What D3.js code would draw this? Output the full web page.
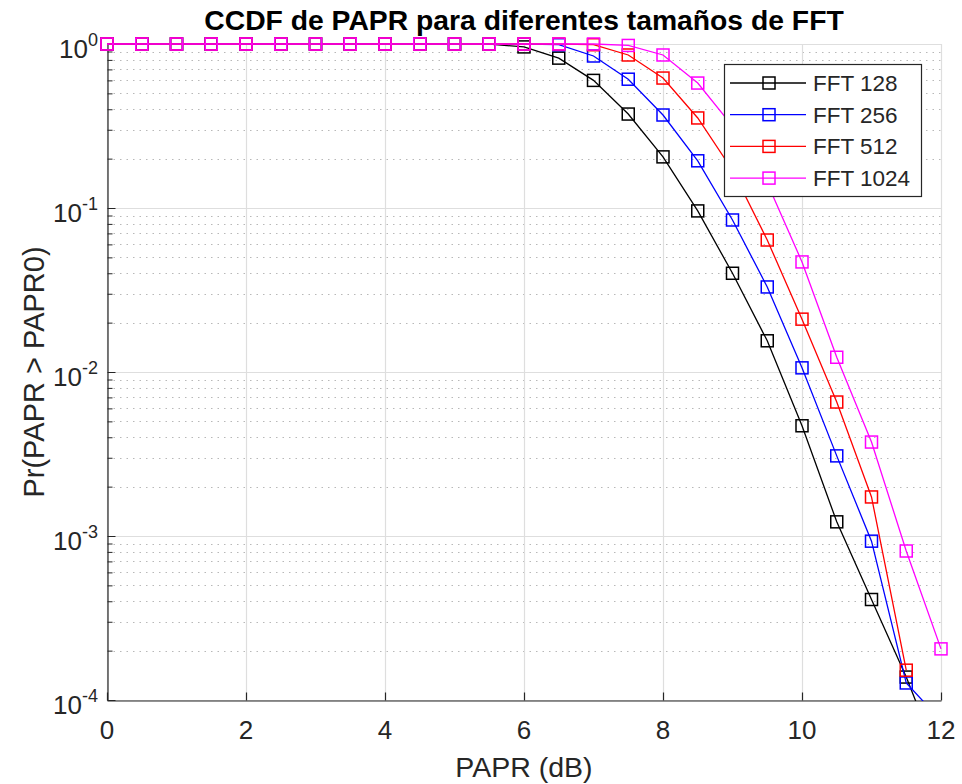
<!DOCTYPE html>
<html>
<head>
<meta charset="utf-8">
<script src="https://cdn.jsdelivr.net/npm/d3@7"></script>
<style>
  html, body { margin: 0; padding: 0; background: #ffffff; }
  svg { display: block; font-family: "Liberation Sans", Arial, Helvetica, sans-serif; }
</style>
</head>
<body>
<svg id="chart" width="962" height="784"></svg>
<script>
// ---- data ----
const papr = [0, 0.5, 1, 1.5, 2, 2.5, 3, 3.5, 4, 4.5, 5, 5.5, 6, 6.5, 7, 7.5, 8, 8.5, 9, 9.5, 10, 10.5, 11, 11.5, 12];
const fft128 = [1, 1, 1, 1, 1, 1, 1, 1, 1, 1, 1, 0.997, 0.96, 0.82, 0.60, 0.374, 0.205, 0.096, 0.040, 0.0155, 0.0047, 0.00122, 0.00041, 0.000138, 0.00004];
const fft256 = [1, 1, 1, 1, 1, 1, 1, 1, 1, 1, 1, 1, 0.998, 0.99, 0.845, 0.61, 0.369, 0.194, 0.0845, 0.033, 0.0106, 0.00308, 0.00093, 0.000127, 0.000075];
const fft512 = [1, 1, 1, 1, 1, 1, 1, 1, 1, 1, 1, 1, 1, 1, 0.99, 0.857, 0.62, 0.354, 0.17, 0.0638, 0.021, 0.00656, 0.00173, 0.000152, 0];
const fft1024 = [1, 1, 1, 1, 1, 1, 1, 1, 1, 1, 1, 1, 1, 1, 1, 0.98, 0.857, 0.578, 0.316, 0.142, 0.0469, 0.0123, 0.00374, 0.00081, 0.000205];
const seriesNames = ["FFT 128", "FFT 256", "FFT 512", "FFT 1024"];
const seriesColors = ["#000000", "#0000ff", "#ff0000", "#ff00ff"];
const xTicks = [0, 2, 4, 6, 8, 10, 12];
const yExponents = [0, -1, -2, -3, -4];
const titleText = "CCDF de PAPR para diferentes tamaños de FFT";
const xLabelText = "PAPR (dB)";
const yLabelText = "Pr(PAPR > PAPR0)";

const seriesValues = [fft128, fft256, fft512, fft1024];

// ---- layout ----
const svg = d3.select("#chart");
const L = 107, R = 941, T = 44, B = 700;
const axisColor = "#262626";

const x = d3.scaleLinear().domain([0, 12]).range([L, R]);
const y = d3.scaleLog().domain([1e-4, 1]).range([B, T]);

// grid
const grid = svg.append("g");
const minorVals = [];
for (let e = -4; e < 0; e++) {
  for (let m = 2; m <= 9; m++) minorVals.push(m * Math.pow(10, e));
}
grid.selectAll("line.minor").data(minorVals).enter().append("line")
  .attr("x1", L).attr("x2", R)
  .attr("y1", d => Math.round(y(d)) + 0.5).attr("y2", d => Math.round(y(d)) + 0.5)
  .attr("stroke", "#b8b8b8").attr("stroke-width", 1)
  .attr("stroke-dasharray", "1.5,5");
grid.selectAll("line.majy").data(yExponents.map(e => Math.pow(10, e))).enter().append("line")
  .attr("x1", L).attr("x2", R)
  .attr("y1", d => Math.round(y(d)) + 0.5).attr("y2", d => Math.round(y(d)) + 0.5)
  .attr("stroke", "#dedede").attr("stroke-width", 1.2);
grid.selectAll("line.majx").data(xTicks).enter().append("line")
  .attr("x1", d => Math.round(x(d)) + 0.5).attr("x2", d => Math.round(x(d)) + 0.5)
  .attr("y1", T).attr("y2", B)
  .attr("stroke", "#dedede").attr("stroke-width", 1.2);

// axes (left & bottom) with inward ticks
const axes = svg.append("g");
const xAxis = d3.axisBottom(x).tickValues(xTicks).tickSizeInner(-8).tickSizeOuter(0).tickFormat("");
axes.append("g").attr("transform", `translate(0,${B + 0.5})`).call(xAxis)
  .call(g => g.select(".domain").attr("stroke", axisColor).attr("stroke-width", 1.2))
  .call(g => g.selectAll(".tick line").attr("stroke", axisColor).attr("stroke-width", 1.2));

const allYTicks = yExponents.map(e => Math.pow(10, e)).concat(minorVals);
const yAxis = d3.axisLeft(y).tickValues(allYTicks).tickSizeInner(-5).tickSizeOuter(0).tickFormat("");
axes.append("g").attr("transform", `translate(${L + 0.5},0)`).call(yAxis)
  .call(g => g.select(".domain").attr("stroke", axisColor).attr("stroke-width", 1.2))
  .call(g => g.selectAll(".tick line").attr("stroke", axisColor).attr("stroke-width", 1)
    .attr("x2", d => (Math.abs(Math.log10(d) - Math.round(Math.log10(d))) < 1e-9) ? 8 : 5));

// x tick labels
svg.append("g").selectAll("text").data(xTicks).enter().append("text")
  .attr("x", d => x(d)).attr("y", 739)
  .attr("text-anchor", "middle")
  .attr("font-size", 26).attr("fill", axisColor)
  .text(d => d);

// y tick labels 10^e
const yl = svg.append("g").selectAll("text").data(yExponents).enter().append("text")
  .attr("x", 98).attr("y", d => y(Math.pow(10, d)) + 14)
  .attr("text-anchor", "end")
  .attr("font-size", 26).attr("fill", axisColor);
yl.append("tspan").text("10");
yl.append("tspan").attr("font-size", 18).attr("dy", -12).text(d => d === 0 ? "0" : "-" + Math.abs(d));

// lines + markers
const clipId = "plotclip";
svg.append("clipPath").attr("id", clipId).append("rect")
  .attr("x", L - 1).attr("y", T - 2).attr("width", R - L + 3).attr("height", B - T + 3);

const line = d3.line()
  .defined(d => d.v > 0)
  .x(d => x(d.p)).y(d => y(d.v));

seriesValues.forEach((vals, i) => {
  const pts = papr.map((p, j) => ({ p, v: vals[j] }));
  const g = svg.append("g");
  g.append("path").datum(pts)
    .attr("clip-path", `url(#${clipId})`)
    .attr("d", line)
    .attr("fill", "none").attr("stroke", seriesColors[i]).attr("stroke-width", 1.3);
  const ms = 12;
  g.selectAll("rect").data(pts.filter(d => d.v >= 1e-4 && d.v <= 1)).enter().append("rect")
    .attr("x", d => x(d.p) - ms / 2).attr("y", d => y(d.v) - ms / 2)
    .attr("width", ms).attr("height", ms)
    .attr("fill", "none").attr("stroke", seriesColors[i]).attr("stroke-width", 1.5);
});

// legend
const lg = svg.append("g");
lg.append("rect").attr("x", 724.5).attr("y", 64.5).attr("width", 197).attr("height", 132)
  .attr("fill", "#ffffff").attr("stroke", axisColor).attr("stroke-width", 1.2);
seriesNames.forEach((name, i) => {
  const cy = 83 + i * 31.7;
  lg.append("line").attr("x1", 730).attr("x2", 806).attr("y1", cy).attr("y2", cy)
    .attr("stroke", seriesColors[i]).attr("stroke-width", 1.3);
  lg.append("rect").attr("x", 769 - 6).attr("y", cy - 6).attr("width", 12).attr("height", 12)
    .attr("fill", "none").attr("stroke", seriesColors[i]).attr("stroke-width", 1.5);
  lg.append("text").attr("x", 813).attr("y", cy + 8)
    .attr("font-size", 22.5).attr("fill", axisColor).text(name);
});

// title and axis labels
svg.append("text").attr("x", 524).attr("y", 30)
  .attr("text-anchor", "middle").attr("font-size", 28.3).attr("font-weight", "bold")
  .attr("fill", "#000").text(titleText);
svg.append("text").attr("x", 524).attr("y", 777)
  .attr("text-anchor", "middle").attr("font-size", 28.5).attr("fill", axisColor)
  .text(xLabelText);
svg.append("text").attr("transform", `translate(44,372) rotate(-90)`)
  .attr("text-anchor", "middle").attr("font-size", 29).attr("fill", axisColor)
  .text(yLabelText);
</script>
</body>
</html>
